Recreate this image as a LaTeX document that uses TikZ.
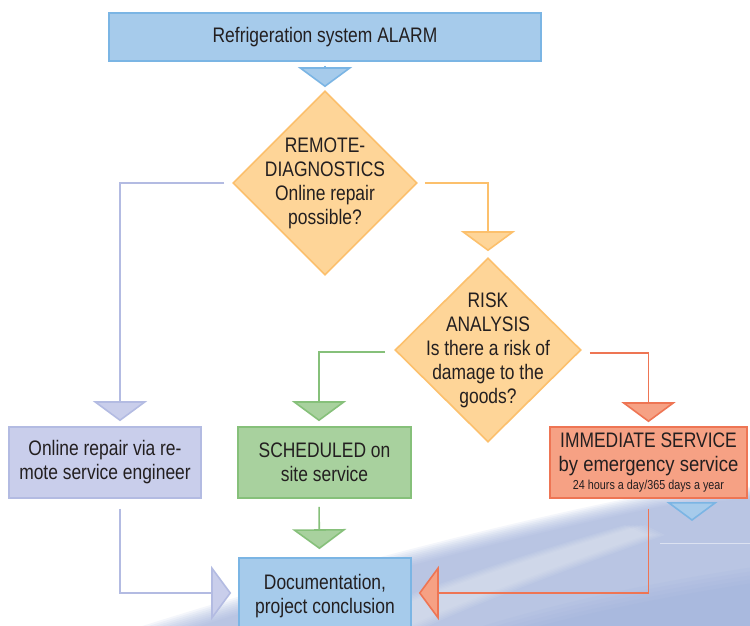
\documentclass[tikz,border=0pt]{standalone}
\usepackage{fontspec}
\setmainfont{Liberation Sans}[FakeStretch=0.83]
\newfontfamily\widefont{Liberation Sans}[FakeStretch=0.88]
\usetikzlibrary{arrows.meta,positioning,shapes.geometric}
\definecolor{rInk}{HTML}{231F20}
\definecolor{rBlue}{HTML}{A6CBEB}
\definecolor{rBlueLine}{HTML}{7BB5E4}
\definecolor{rOrange}{HTML}{FED598}
\definecolor{rOrangeLine}{HTML}{FCC06C}
\definecolor{rLilac}{HTML}{C9CEEB}
\definecolor{rLilacLine}{HTML}{B3BBE2}
\definecolor{rGreen}{HTML}{A8D19E}
\definecolor{rGreenLine}{HTML}{86C07A}
\definecolor{rRed}{HTML}{F6A184}
\definecolor{rRedLine}{HTML}{EE7554}
\definecolor{rSwoosh}{HTML}{9DB0DB}
\definecolor{rSwooshDeep}{HTML}{8FA6D8}

\begin{document}
\begin{tikzpicture}[
  x=1pt, y=-1pt,
  font=\fontsize{21pt}{24pt}\selectfont, text=rInk,
  box/.style={rectangle, draw=#1Line, fill=#1, line width=1.6pt,
              inner sep=2pt, align=center},
  dec/.style={diamond, draw=rOrangeLine, fill=rOrange, line width=1.6pt,
              minimum width=184pt, minimum height=184pt, inner sep=0pt},
  dectext/.style={align=center, inner sep=0pt},
  link/.style={line width=1.6pt, draw=#1Line, shorten <=8pt, shorten >=5pt,
               -{Triangle[width=54pt, length=20pt, fill=#1]}},
]

% page and the soft backdrop in the lower right
\fill[white] (0,0) rectangle (750,626);
\useasboundingbox (0,0) rectangle (750,626);
\foreach \d in {0,3,...,27}
  \fill[rSwoosh, opacity=.11, shift={(\d,\d*0.35)}]
    (130,630) .. controls (270,585) and (470,530) .. (640,496) -- (760,486) -- (760,630) -- cycle;
\foreach \d in {0,4,...,20}
  \fill[white, opacity=.07, shift={(\d,0)}]
    (320,630) .. controls (410,592) and (520,555) .. (625,525) -- (645,535) .. controls (545,570) and (445,608) .. (400,630) -- cycle;
\foreach \d in {0,4,...,16}
  \fill[rSwooshDeep, opacity=.08, shift={(0,\d)}]
    (470,630) .. controls (570,598) and (680,578) .. (760,566) -- (760,630) -- cycle;
\draw[white, opacity=.5, line width=1pt] (660,543) -- (750,543);

% boxes and decisions
\node[box=rBlue, minimum width=432pt, minimum height=48pt] (alarm) at (325,37) {Refrigeration system ALARM};
\node[dec] (remote) at (325,183) {};
\node[dectext] (remotetxt) at (remote) {REMOTE-\\DIAGNOSTICS\\Online repair\\possible?};
\node[dec, minimum width=186pt] (risk) at (488,350) {};
\node[dectext] (risktxt) at (risk) {RISK\\ANALYSIS\\Is there a risk of\\damage to the\\goods?};
\node[box=rLilac, minimum width=192pt, minimum height=71pt] (online) at (105,462.5) {Online repair via re-\\mote service engineer};
\node[box=rGreen, minimum width=173pt, minimum height=71pt] (sched) at (324.5,462.5) {SCHEDULED on\\site service};
\node[box=rRed, minimum width=197pt, minimum height=71pt] (urgent) at (648.5,462.5)
  {IMMEDIATE SERVICE\\{\widefont by emergency service}\\[-6pt]{\fontsize{13pt}{14pt}\selectfont 24 hours a day/365 days a year}};
\node[box=rBlue, minimum width=172pt, minimum height=76pt] (doc) at (325,596) {Documentation,\\project conclusion};
\coordinate (offstage) at (692,521);

% connectors
\draw[link=rBlue, shorten <=4pt, shorten >=3pt] (alarm) -- (remote);
\draw[link=rOrange, shorten <=7pt, shorten >=6pt] (remote.east) -| (risk.north);
\draw[link=rLilac] (remote.west) -| ([xshift=15pt]online.north);
\draw[link=rGreen, shorten <=9pt] ([yshift=-2pt]risk.west) -| ([xshift=-5.5pt]sched.north);
\draw[link=rRed, shorten >=4pt] ([yshift=-3pt]risk.east) -| (urgent.north);
\draw[link=rGreen, shorten >=8pt] ([xshift=-5.5pt]sched.south) -- ([xshift=-5.5pt]doc.north);
\draw[link=rLilac, shorten <=10pt, shorten >=7pt] ([xshift=15pt]online.south) |- ([yshift=3pt]doc.west);
\draw[link=rRed, shorten <=10pt, shorten >=7pt] (urgent.south) |- ([yshift=3pt]doc.east);
\draw[link=rBlue, shorten <=3pt, shorten >=0pt, -{Triangle[width=51pt, length=19pt, fill=rBlue]}] ([xshift=43.5pt]urgent.south) -- (offstage);

\end{tikzpicture}
\end{document}
